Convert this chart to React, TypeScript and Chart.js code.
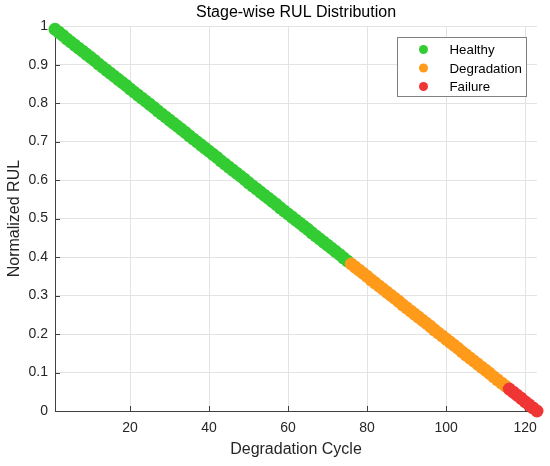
import React, { useEffect, useRef } from "react";
import { Chart, registerables } from "chart.js";

Chart.register(...registerables);

// ---- data ----
const healthyCycles = [
  1, 2, 3, 4, 5, 6, 7, 8, 9, 10, 11, 12, 13, 14, 15, 16, 17, 18, 19, 20, 21, 22, 23, 24, 25,
  26, 27, 28, 29, 30, 31, 32, 33, 34, 35, 36, 37, 38, 39, 40, 41, 42, 43, 44, 45, 46, 47, 48, 49, 50,
  51, 52, 53, 54, 55, 56, 57, 58, 59, 60, 61, 62, 63, 64, 65, 66, 67, 68, 69, 70, 71, 72, 73, 74, 75,
];
const healthyRul = [
  0.992, 0.984, 0.976, 0.967, 0.959, 0.951, 0.943, 0.935, 0.927, 0.919, 0.911, 0.902, 0.894, 0.886, 0.878,
  0.87, 0.862, 0.854, 0.846, 0.837, 0.829, 0.821, 0.813, 0.805, 0.797, 0.789, 0.78, 0.772, 0.764, 0.756,
  0.748, 0.74, 0.732, 0.724, 0.715, 0.707, 0.699, 0.691, 0.683, 0.675, 0.667, 0.659, 0.65, 0.642, 0.634,
  0.626, 0.618, 0.61, 0.602, 0.593, 0.585, 0.577, 0.569, 0.561, 0.553, 0.545, 0.537, 0.528, 0.52, 0.512,
  0.504, 0.496, 0.488, 0.48, 0.472, 0.463, 0.455, 0.447, 0.439, 0.431, 0.423, 0.415, 0.407, 0.398, 0.39,
];

const degradationCycles = [
  76, 77, 78, 79, 80, 81, 82, 83, 84, 85, 86, 87, 88, 89, 90, 91, 92, 93, 94, 95,
  96, 97, 98, 99, 100, 101, 102, 103, 104, 105, 106, 107, 108, 109, 110, 111, 112, 113, 114, 115,
];
const degradationRul = [
  0.382, 0.374, 0.366, 0.358, 0.35, 0.341, 0.333, 0.325, 0.317, 0.309, 0.301, 0.293, 0.285, 0.276, 0.268,
  0.26, 0.252, 0.244, 0.236, 0.228, 0.22, 0.211, 0.203, 0.195, 0.187, 0.179, 0.171, 0.163, 0.154, 0.146,
  0.138, 0.13, 0.122, 0.114, 0.106, 0.098, 0.089, 0.081, 0.073, 0.065,
];

const failureCycles = [116, 117, 118, 119, 120, 121, 122, 123];
const failureRul = [0.057, 0.049, 0.041, 0.033, 0.024, 0.016, 0.008, 0];

const stageLabels = ["Healthy", "Degradation", "Failure"];
const stageColors = ["#33cc33", "#ff9a1a", "#f03535"];

const xTicks = [20, 40, 60, 80, 100, 120];
const yTicks = [0, 0.1, 0.2, 0.3, 0.4, 0.5, 0.6, 0.7, 0.8, 0.9, 1];

const FONT = '"Liberation Sans", Arial, Helvetica, sans-serif';
const AXIS_COLOR = "#404040";
const TEXT_COLOR = "#262626";

const toPoints = (xs: number[], ys: number[]) => xs.map((x, i) => ({ x, y: ys[i] }));

// inward tick marks like MATLAB, drawn under the markers
const inwardTicks = {
  id: "inwardTicks",
  beforeDatasetsDraw(chart: any) {
    const { ctx, chartArea, scales } = chart;
    ctx.save();
    ctx.strokeStyle = AXIS_COLOR;
    ctx.lineWidth = 1;
    ctx.beginPath();
    xTicks.forEach((v) => {
      const px = Math.round(scales.x.getPixelForValue(v)) + 0.5;
      ctx.moveTo(px, chartArea.bottom);
      ctx.lineTo(px, chartArea.bottom - 5);
    });
    yTicks.forEach((v) => {
      const py = Math.round(scales.y.getPixelForValue(v)) + 0.5;
      ctx.moveTo(chartArea.left, py);
      ctx.lineTo(chartArea.left + 5, py);
    });
    ctx.stroke();
    ctx.restore();
  },
};

// boxed legend in the upper right corner of the axes
const boxLegend = {
  id: "boxLegend",
  afterDatasetsDraw(chart: any) {
    const { ctx, chartArea } = chart;
    const w = 129;
    const h = 59;
    const left = Math.round(chartArea.right - 11 - w) + 0.5;
    const top = Math.round(chartArea.top + 11) + 0.5;
    ctx.save();
    ctx.fillStyle = "#ffffff";
    ctx.fillRect(left, top, w, h);
    ctx.strokeStyle = "#808080";
    ctx.lineWidth = 1;
    ctx.strokeRect(left, top, w, h);
    ctx.font = `13.3px ${FONT}`;
    ctx.textBaseline = "middle";
    ctx.textAlign = "left";
    chart.data.datasets.forEach((ds: any, i: number) => {
      const cy = top + 12 + i * 18.5;
      ctx.fillStyle = ds.backgroundColor;
      ctx.beginPath();
      ctx.arc(left + 26, cy, 4.5, 0, Math.PI * 2);
      ctx.fill();
      ctx.fillStyle = "#000000";
      ctx.fillText(ds.label, left + 52, cy + 1);
    });
    ctx.restore();
  },
};

const App: React.FC = () => {
  const canvasRef = useRef<HTMLCanvasElement>(null);

  useEffect(() => {
    if (!canvasRef.current) return;
    const ctx = canvasRef.current.getContext("2d");
    if (!ctx) return;

    const series = [
      toPoints(healthyCycles, healthyRul),
      toPoints(degradationCycles, degradationRul),
      toPoints(failureCycles, failureRul),
    ];

    const chart = new Chart(ctx, {
      type: "scatter",
      data: {
        datasets: series.map((data, i) => ({
          label: stageLabels[i],
          data,
          backgroundColor: stageColors[i],
          borderColor: stageColors[i],
          borderWidth: 0,
          pointRadius: 6.5,
          pointHoverRadius: 6.5,
          clip: false as any,
          order: 3 - i,
        })),
      },
      options: {
        responsive: true,
        maintainAspectRatio: false,
        animation: false,
        events: [],
        layout: { padding: { left: 0, right: 13, top: 0, bottom: 0 } },
        plugins: {
          legend: { display: false },
          tooltip: { enabled: false },
          title: {
            display: true,
            text: "Stage-wise RUL Distribution",
            fullSize: false,
            color: "#000000",
            font: { family: FONT, size: 16, weight: "normal" },
            padding: { top: 3, bottom: 4 },
          },
        },
        scales: {
          x: {
            type: "linear",
            min: 1,
            max: 123,
            afterBuildTicks: (axis: any) => {
              axis.ticks = xTicks.map((value) => ({ value }));
            },
            afterFit: (axis: any) => {
              axis.height = 55;
            },
            grid: { color: "#e3e3e3", drawTicks: false },
            border: { display: true, color: AXIS_COLOR, width: 1 },
            ticks: {
              color: TEXT_COLOR,
              font: { family: FONT, size: 14 },
              padding: 9,
              maxRotation: 0,
              callback: (v: any) => String(v),
            },
            title: {
              display: true,
              text: "Degradation Cycle",
              color: TEXT_COLOR,
              font: { family: FONT, size: 16 },
              padding: { top: 0, bottom: 7 },
            },
          },
          y: {
            type: "linear",
            min: 0,
            max: 1,
            afterBuildTicks: (axis: any) => {
              axis.ticks = yTicks.map((value) => ({ value }));
            },
            afterFit: (axis: any) => {
              axis.width = 55;
            },
            grid: { color: "#e3e3e3", drawTicks: false },
            border: { display: true, color: AXIS_COLOR, width: 1 },
            ticks: {
              color: TEXT_COLOR,
              font: { family: FONT, size: 14 },
              padding: 7,
              callback: (v: any) => String(v),
            },
            title: {
              display: true,
              text: "Normalized RUL",
              color: TEXT_COLOR,
              font: { family: FONT, size: 16 },
              padding: { top: 5, bottom: 0 },
            },
          },
        },
      },
      plugins: [inwardTicks, boxLegend],
    });

    return () => {
      chart.destroy();
    };
  }, []);

  return (
    <div
      style={{
        position: "fixed",
        left: 0,
        top: 0,
        width: 550,
        height: 466,
        background: "#ffffff",
      }}
    >
      <canvas ref={canvasRef}></canvas>
    </div>
  );
};

export default App;
